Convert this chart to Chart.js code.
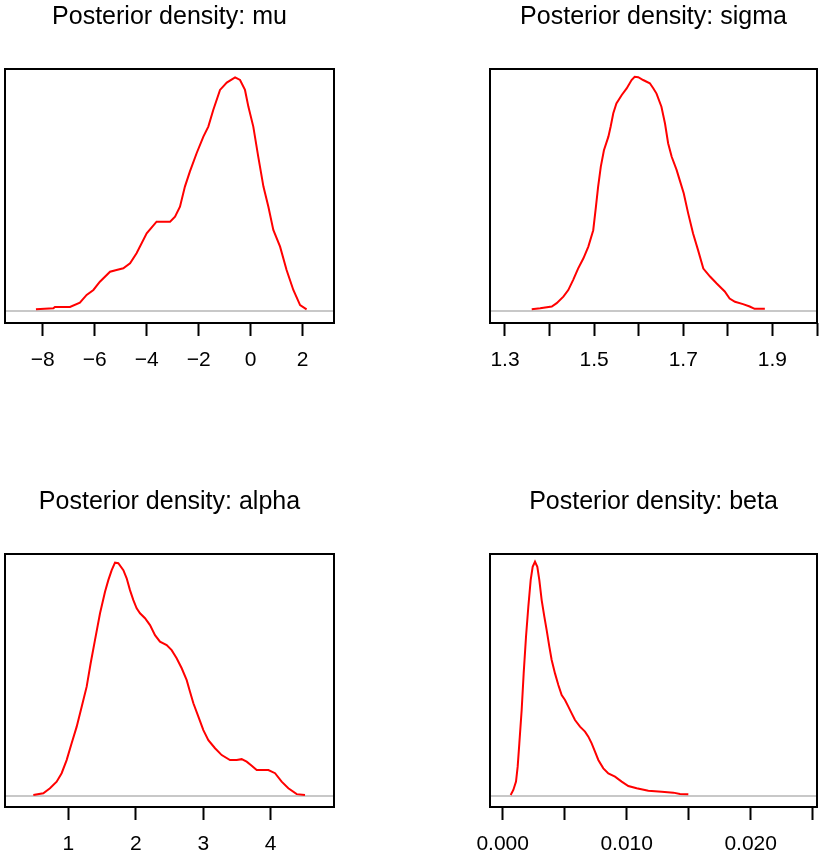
<!DOCTYPE html>
<html>
<head>
<meta charset="utf-8">
<script src="https://cdn.jsdelivr.net/npm/chart.js@4.4.1/dist/chart.umd.min.js"></script>
<style>
  body { margin: 0; background: #fff; }
  #wrap { position: relative; width: 819px; height: 859px; overflow: hidden; background: #fff; }
  canvas { position: absolute; }
</style>
</head>
<body>
<div id="wrap">
  <canvas id="muChart" width="410" height="430" style="left:0px;top:0px"></canvas>
  <canvas id="sigmaChart" width="409" height="430" style="left:410px;top:0px"></canvas>
  <canvas id="alphaChart" width="410" height="374" style="left:0px;top:485px"></canvas>
  <canvas id="betaChart" width="409" height="374" style="left:410px;top:485px"></canvas>
</div>
<script>
// posterior density curves (x = parameter, y = density)
var muX = [-8.26, -7.59, -7.53, -6.95, -6.57, -6.31, -6.05, -5.80, -5.41, -5.16, -4.90, -4.64, -4.39, -4.00,
  -3.62, -3.10, -2.91, -2.72, -2.53, -2.34, -2.08, -1.82, -1.63, -1.44, -1.18, -0.92, -0.60, -0.41, -0.22,
  -0.09, 0.10, 0.29, 0.49, 0.68, 0.87, 1.13, 1.38, 1.64, 1.90, 2.15];
var muY = [0.0016, 0.0025, 0.0038, 0.0038, 0.0078, 0.0151, 0.0198, 0.0276, 0.0370, 0.0386, 0.0402, 0.0449,
  0.0543, 0.0731, 0.0841, 0.0841, 0.0888, 0.0982, 0.1171, 0.1312, 0.1485, 0.1641, 0.1736, 0.1892, 0.2081,
  0.2150, 0.2200, 0.2175, 0.2081, 0.1924, 0.1736, 0.1453, 0.1171, 0.0982, 0.0763, 0.0606, 0.0386, 0.0198,
  0.0056, 0.0016];

var sigmaX = [1.360, 1.379, 1.405, 1.416, 1.431, 1.442, 1.453, 1.464, 1.476, 1.487, 1.498, 1.504, 1.509,
  1.515, 1.522, 1.532, 1.537, 1.543, 1.550, 1.562, 1.573, 1.584, 1.591, 1.599, 1.610, 1.625, 1.633, 1.640,
  1.651, 1.659, 1.666, 1.674, 1.685, 1.692, 1.701, 1.711, 1.722, 1.733, 1.745, 1.760, 1.775, 1.793, 1.804,
  1.816, 1.834, 1.849, 1.860, 1.883];
var sigmaY = [0.03, 0.05, 0.09, 0.16, 0.30, 0.44, 0.66, 0.90, 1.12, 1.37, 1.72, 2.22, 2.65, 3.08, 3.43, 3.72,
  3.93, 4.22, 4.43, 4.61, 4.75, 4.93, 5.00, 4.99, 4.93, 4.86, 4.75, 4.64, 4.36, 4.00, 3.58, 3.29, 3.01, 2.79,
  2.51, 2.08, 1.65, 1.30, 0.90, 0.73, 0.58, 0.41, 0.26, 0.19, 0.14, 0.09, 0.04, 0.04];

var alphaX = [0.481, 0.629, 0.728, 0.827, 0.901, 0.975, 1.049, 1.124, 1.198, 1.272, 1.331, 1.395, 1.470,
  1.544, 1.593, 1.643, 1.692, 1.741, 1.816, 1.865, 1.914, 1.964, 2.013, 2.063, 2.137, 2.211, 2.285, 2.359,
  2.458, 2.532, 2.606, 2.681, 2.755, 2.804, 2.854, 2.928, 3.002, 3.076, 3.175, 3.274, 3.397, 3.496, 3.570,
  3.644, 3.719, 3.793, 3.891, 3.966, 4.065, 4.163, 4.262, 4.386, 4.509];
var alphaY = [0.003, 0.009, 0.025, 0.046, 0.073, 0.115, 0.169, 0.222, 0.286, 0.350, 0.425, 0.499, 0.585,
  0.654, 0.691, 0.723, 0.747, 0.745, 0.723, 0.697, 0.659, 0.627, 0.601, 0.585, 0.569, 0.547, 0.515, 0.494,
  0.483, 0.467, 0.441, 0.409, 0.371, 0.334, 0.297, 0.254, 0.211, 0.179, 0.153, 0.131, 0.115, 0.115, 0.118,
  0.110, 0.097, 0.083, 0.083, 0.083, 0.073, 0.046, 0.025, 0.006, 0.003];

var betaX = [0.000645, 0.00086, 0.001075, 0.00121, 0.001344, 0.001532, 0.001694, 0.001882, 0.002069,
  0.002258, 0.002419, 0.002607, 0.002795, 0.002957, 0.003145, 0.00336, 0.003548, 0.003763, 0.003952,
  0.00422, 0.004489, 0.004758, 0.005027, 0.005296, 0.005565, 0.005833, 0.006236, 0.00664, 0.006909,
  0.007177, 0.007446, 0.007715, 0.008118, 0.008521, 0.009059, 0.009597, 0.010134, 0.010806, 0.011747,
  0.012823, 0.013763, 0.014301, 0.014973];
var betaY = [1.3, 7.7, 18.4, 37.6, 67.4, 110.1, 157.0, 204.0, 242.4, 276.5, 293.6, 300.0, 293.6, 276.5,
  250.9, 229.6, 212.5, 191.2, 174.1, 157.0, 142.1, 129.3, 122.9, 114.4, 105.8, 97.3, 88.8, 82.4, 76.0,
  67.4, 56.8, 46.1, 35.4, 29.0, 24.8, 18.4, 12.8, 9.8, 6.8, 5.5, 4.3, 2.6, 2.1];

// axis ticks and their labels (blank = tick without label, as R drops crowded ones)
var muTicks = [-8, -6, -4, -2, 0, 2];
var muTickLabels = ['\u22128', '\u22126', '\u22124', '\u22122', '0', '2'];
var sigmaTicks = [1.3, 1.4, 1.5, 1.6, 1.7, 1.8, 1.9, 2.0];
var sigmaTickLabels = ['1.3', '', '1.5', '', '1.7', '', '1.9', ''];
var alphaTicks = [1, 2, 3, 4];
var alphaTickLabels = ['1', '2', '3', '4'];
var betaTicks = [0, 0.005, 0.010, 0.015, 0.020, 0.025];
var betaTickLabels = ['0.000', '', '0.010', '', '0.020', ''];

var FONT = "'Liberation Sans', Arial, Helvetica, sans-serif";

// draws the black frame round the plot region
var boxPlugin = {
  id: 'box',
  afterDraw: function(chart) {
    var a = chart.chartArea;
    var ctx = chart.ctx;
    ctx.save();
    ctx.strokeStyle = '#000';
    ctx.lineWidth = 2;
    ctx.strokeRect(a.left, a.top, a.right - a.left, a.bottom - a.top);
    ctx.restore();
  }
};

function pairs(xs, ys) {
  var out = [];
  for (var i = 0; i < xs.length; i++) out.push({ x: xs[i], y: ys[i] });
  return out;
}

function makeChart(id, title, xs, ys, ticks, tickLabels, xMin, xMax, yMin, yMax, pad, axisHeight) {
  var ctx = document.getElementById(id).getContext('2d');
  return new Chart(ctx, {
    type: 'line',
    data: {
      datasets: [{
        data: pairs(xs, ys),
        borderColor: '#ff0000',
        borderWidth: 2,
        pointRadius: 0,
        fill: false,
        tension: 0
      }]
    },
    options: {
      responsive: false,
      animation: false,
      layout: { padding: { left: pad[0], right: pad[1], top: 0, bottom: 0 } },
      plugins: {
        legend: { display: false },
        tooltip: { enabled: false },
        title: {
          display: true,
          text: title,
          color: '#000',
          font: { family: FONT, size: 25, weight: 'normal', lineHeight: 1.2 },
          padding: { top: 2, bottom: 37 }
        }
      },
      scales: {
        x: {
          type: 'linear',
          min: xMin,
          max: xMax,
          afterBuildTicks: function(scale) {
            scale.ticks = ticks.map(function(v) { return { value: v }; });
          },
          afterFit: function(scale) {
            // keep the plot box where the layout padding puts it
            scale.height = axisHeight;
            scale.paddingLeft = 0;
            scale.paddingRight = 0;
          },
          border: { display: false },
          grid: {
            drawOnChartArea: false,
            drawTicks: true,
            tickLength: 13,
            tickWidth: 2,
            tickColor: '#000'
          },
          ticks: {
            autoSkip: false,
            maxRotation: 0,
            padding: 12,
            color: '#000',
            font: { family: FONT, size: 21 },
            callback: function(value, index) { return tickLabels[index]; }
          }
        },
        y: {
          type: 'linear',
          min: yMin,
          max: yMax,
          afterBuildTicks: function(scale) { scale.ticks = [{ value: 0 }]; },
          afterFit: function(scale) { scale.width = 0; },
          border: { display: false },
          grid: { color: '#c8c8c8', lineWidth: 2, drawTicks: false },
          ticks: { display: false }
        }
      }
    },
    plugins: [boxPlugin]
  });
}

makeChart('muChart', 'Posterior density: mu', muX, muY, muTicks, muTickLabels,
  -9.45, 3.204, -0.0113, 0.2278, [5, 76], 107);
makeChart('sigmaChart', 'Posterior density: sigma', sigmaX, sigmaY, sigmaTicks, sigmaTickLabels,
  1.2664, 2.0, -0.263, 5.165, [80, 2], 107);
makeChart('alphaChart', 'Posterior density: alpha', alphaX, alphaY, alphaTicks, alphaTickLabels,
  0.061, 4.939, -0.0352, 0.7747, [5, 76], 52);
makeChart('betaChart', 'Posterior density: beta', betaX, betaY, betaTicks, betaTickLabels,
  -0.001022, 0.02535, -14.1, 309.9, [80, 2], 52);
</script>
</body>
</html>
